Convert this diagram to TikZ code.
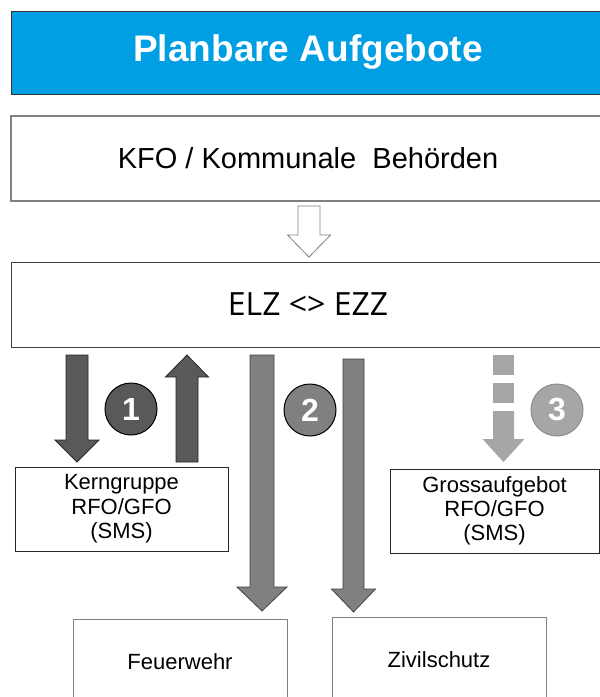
\documentclass[tikz,border=0pt]{standalone}
\usepackage{fontspec}
\setmainfont{Liberation Sans}
\newfontfamily\elzfont{Open Sans}
\usetikzlibrary{calc}

\definecolor{titleblue}{RGB}{0,159,227}
\definecolor{darkgrey}{RGB}{89,89,89}
\definecolor{midgrey}{RGB}{128,128,128}
\definecolor{lightgrey}{RGB}{166,166,166}

\begin{document}
\begin{tikzpicture}[x=1pt,y=-1pt]
      %use to draw vertical block arrows
      \tikzset{
      blockarrow/.style n args={3}{
        to path={%
        let \p1=(\tikztostart), \p2=(\tikztotarget), \n1={sign(\y2-\y1)} in
        (\x1-#1,\y1) -- (\x1-#1,\y2-\n1*#3) -- (\x1-#2,\y2-\n1*#3) -- (\x2,\y2)
        -- (\x1+#2,\y2-\n1*#3) -- (\x1+#1,\y2-\n1*#3) -- (\x1+#1,\y1) -- cycle}
      },
      infobox/.style={draw, rectangle, fill=white, inner sep=0pt, line width=1pt},
      numdisc/.style={circle, minimum size=52pt, inner sep=0pt, line width=1pt,
        text=white, font=\bfseries\fontsize{32}{36}\selectfont},
      }

      \useasboundingbox (0,0) rectangle (600,697);
      \clip (0,0) rectangle (600,697);
      \fill[white] (0,0) rectangle (600,697);

      %Header
      \node[infobox, fill=titleblue, draw=black!80, minimum width=594pt, minimum height=83pt,
        text=white, font=\bfseries\fontsize{37}{40}\selectfont] (title) at (308,52.5) {Planbare Aufgebote};

      %Upper boxes
      \node[infobox, draw=midgrey, line width=1.2pt, minimum width=594pt, minimum height=85pt,
        font=\fontsize{29}{32}\selectfont] (kfo) at (308,158.5) {KFO / Kommunale\ \ Behörden};
      \node[infobox, draw=black!75, minimum width=594pt, minimum height=85pt,
        font=\elzfont\fontsize{32}{35}\selectfont] (elz) at (308,304.5) {ELZ <> EZZ};

      %KFO -> ELZ
      \coordinate (h1) at (309,206);
      \coordinate (h2) at (309,257);
      \draw[fill=white, draw=black!50, line width=0.8pt] (h1) to[blockarrow={11}{21.5}{22}] (h2);

      %Lower boxes
      \node[infobox, draw=black!85, minimum width=213pt, minimum height=84pt, align=center,
        font=\fontsize{22}{24.5}\selectfont] (kern) at (121.5,509) {Kerngruppe\\RFO/GFO\\(SMS)};
      \node[infobox, draw=black!85, minimum width=209pt, minimum height=84pt, align=center,
        font=\fontsize{22}{24}\selectfont] (gross) at (494.5,511) {Grossaufgebot\\RFO/GFO\\(SMS)};
      \node[infobox, draw=midgrey, minimum width=214pt, minimum height=85pt,
        font=\fontsize{22}{24}\selectfont] (fw) at (180,661.5) {Feuerwehr};
      \node[infobox, draw=midgrey, minimum width=214pt, minimum height=86pt,
        font=\fontsize{22}{24}\selectfont] (zs) at (439,660) {Zivilschutz};

      %Stage 1 - Kerngruppe
      \coordinate (d1a) at (77,355);
      \coordinate (d1b) at (77,462);
      \coordinate (u1a) at (187,462);
      \coordinate (u1b) at (187,355);
      \draw[fill=darkgrey, draw=black!85, line width=0.8pt] (d1a) to[blockarrow={11}{22}{22}] (d1b);
      \draw[fill=darkgrey, draw=black!85, line width=0.8pt] (u1a) to[blockarrow={11}{21.5}{22}] (u1b);
      \node[numdisc, fill=darkgrey, draw=black] (n1) at (131,409) {1};

      %Stage 2 - Feuerwehr / Zivilschutz
      \coordinate (d2a) at (262,355);
      \coordinate (d2b) at (262,611);
      \coordinate (d3a) at (353.5,359);
      \coordinate (d3b) at (353.5,612);
      \draw[fill=midgrey, draw=black!75, line width=0.8pt] (d2a) to[blockarrow={12}{25}{24}] (d2b);
      \draw[fill=midgrey, draw=black!75, line width=0.8pt] (d3a) to[blockarrow={10.5}{22}{23}] (d3b);
      \node[numdisc, fill=midgrey, draw=black] (n2) at (310,410) {2};

      %Stage 3 - Grossaufgebot
      \foreach \yy in {355,383}
        \fill[lightgrey] (493,\yy) rectangle (514,\yy+20);
      \coordinate (d4a) at (503.5,411);
      \coordinate (d4b) at (503.5,462);
      \fill[lightgrey] (d4a) to[blockarrow={10.5}{21}{23}] (d4b);
      \node[numdisc, fill=lightgrey, draw=black!45] (n3) at (557,410) {3};
\end{tikzpicture}
\end{document}
